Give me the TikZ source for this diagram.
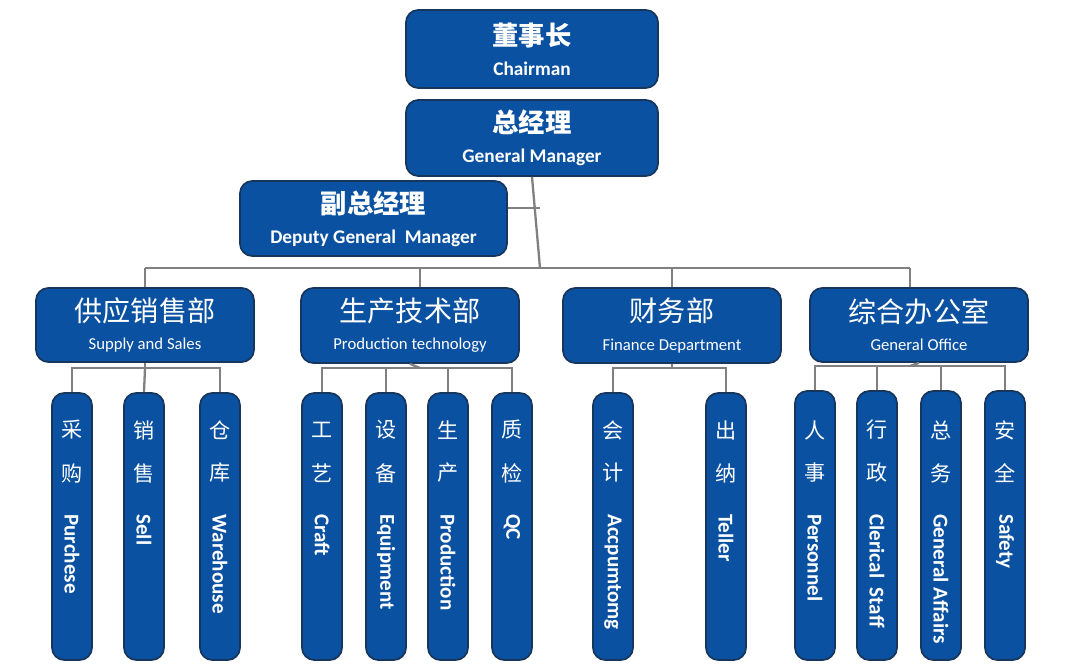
\documentclass[tikz,border=0pt]{standalone}
\usepackage{fontspec}
\setmainfont{Carlito}
\newfontfamily\cjk{Noto Sans CJK SC}
\definecolor{bx}{HTML}{0B51A1}
\definecolor{bd}{HTML}{17365D}
\definecolor{ln}{HTML}{808080}
\tikzset{
 box/.style={draw=bd,line width=1pt,fill=bx,rounded corners=7pt,text=white,inner sep=0pt},
 conn/.style={draw=ln,line width=1.3pt},
}
\newcommand\bx[6]{% name xl xr yt yb content
 \node[box,minimum width={(#3-#2)*0.02cm},minimum height={(#5-#4)*0.02cm},align=center] (#1) at ({(#2+#3)/2},{(#4+#5)/2}) {#6};}
\newcommand\col[8]{% name xl xr yt yb c1 c2 eng
 \node[box,minimum width={(#3-#2)*0.02cm},minimum height={(#5-#4)*0.02cm}] (#1) at ({(#2+#3)/2},{(#4+#5)/2}) {};
 \node[text=white,font=\cjk\fontsize{12}{12}\selectfont] (#1a) at ({(#2+#3)/2},430) {#6};
 \node[text=white,font=\cjk\fontsize{12}{12}\selectfont] (#1b) at ({(#2+#3)/2},473) {#7};
 \node[text=white,font=\bfseries\fontsize{12}{12}\selectfont,rotate=-90,anchor=west,inner sep=0pt] (#1c) at ({(#2+#3)/2},514) {#8};}
\begin{document}
\begin{tikzpicture}[x=0.02cm,y=-0.02cm]
\useasboundingbox (0,0) rectangle (1067,671);
% top
\bx{ch}{406}{658}{10}{88}{{\cjk\bfseries\fontsize{15}{18}\selectfont 董事长}\\[5pt]{\bfseries\fontsize{11}{12}\selectfont Chairman}}
\bx{gm}{406}{658}{100}{176}{{\cjk\bfseries\fontsize{15}{18}\selectfont 总经理}\\[5pt]{\bfseries\fontsize{11}{12}\selectfont General Manager}}
\bx{dg}{240}{507}{181}{256}{{\cjk\bfseries\fontsize{15}{18}\selectfont 副总经理}\\[5pt]{\bfseries\fontsize{11}{12}\selectfont Deputy General\ \ Manager}}
\bx{d1}{36}{254}{288}{362}{{\cjk\fontsize{16}{19}\selectfont 供应销售部}\\[4pt]{\fontsize{9.5}{11}\selectfont Supply and Sales}}
\bx{d2}{301}{519}{288}{363}{{\cjk\fontsize{16}{19}\selectfont 生产技术部}\\[4pt]{\fontsize{9.5}{11}\selectfont Production technology}}
\bx{d3}{563}{781}{288}{363}{{\cjk\fontsize{16}{19}\selectfont 财务部}\\[4pt]{\fontsize{9.5}{11}\selectfont Finance Department}}
\bx{d4}{810}{1028}{288}{362}{{\cjk\fontsize{16}{19}\selectfont 综合办公室}\\[4pt]{\fontsize{9.5}{11}\selectfont General Office}}
% columns
\col{c1}{52}{92}{393}{660}{采}{购}{Purchese}
\col{c2}{124}{164}{393}{660}{销}{售}{Sell}
\col{c3}{200}{240}{393}{660}{仓}{库}{Warehouse}
\col{c4}{302}{342}{393}{660}{工}{艺}{Craft}
\col{c5}{366}{406}{393}{660}{设}{备}{Equipment}
\col{c6}{428}{468}{393}{660}{生}{产}{Production}
\col{c7}{492}{532}{393}{660}{质}{检}{QC}
\col{c8}{593}{633}{393}{660}{会}{计}{Accpumtomg}
\col{c9}{706}{746}{393}{660}{出}{纳}{Teller}
\col{c10}{795}{835}{391}{660}{人}{事}{Personnel}
\col{c11}{857}{897}{391}{660}{行}{政}{Clerical\ \ Staff}
\col{c12}{921}{961}{391}{660}{总}{务}{General Affairs}
\col{c13}{985}{1025}{391}{660}{安}{全}{Safety}
% connectors
\coordinate (j1) at (540,208);
\coordinate (j2) at (540,268);
\draw[conn] (gm.south) -- (j2);
\draw[conn] (j1) -- (dg.east|-j1);
\draw[conn] (145,268) -- (910,268);
\foreach \d/\x in {d1/145,d2/420,d3/672,d4/910} \draw[conn] (\x,268) -- (\d.north-|{\x,0});
\draw[conn] (d1.south) -- (145,368);
\draw[conn] (c1.north) |- (c3.north|-{0,368}) -- (c3.north);
\draw[conn] (145,368) -- (c2.north);
\draw[conn] (d2.south) -- (420,368);
\draw[conn] (c4.north) |- (c7.north|-{0,368}) -- (c7.north);
\draw[conn] (c5.north|-{0,368}) -- (c5.north);
\draw[conn] (c6.north|-{0,368}) -- (c6.north);
\draw[conn] (d3.south) -- (672,368);
\draw[conn] (c8.north) |- (c9.north|-{0,368}) -- (c9.north);
\draw[conn] (d4.south) -- (910,366);
\draw[conn] (c10.north) |- (c13.north|-{0,366}) -- (c13.north);
\draw[conn] (c11.north|-{0,366}) -- (c11.north);
\draw[conn] (c12.north|-{0,366}) -- (c12.north);
\end{tikzpicture}
\end{document}
